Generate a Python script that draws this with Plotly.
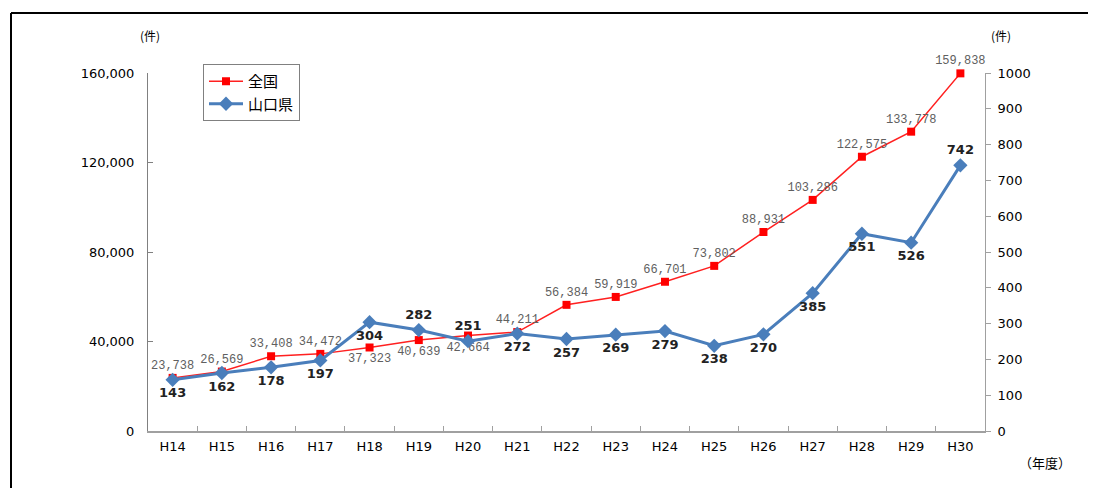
import plotly.graph_objects as go

years = ["H14", "H15", "H16", "H17", "H18", "H19", "H20", "H21", "H22",
         "H23", "H24", "H25", "H26", "H27", "H28", "H29", "H30"]
zenkoku = [23738, 26569, 33408, 34472, 37323, 40639, 42664, 44211, 56384,
           59919, 66701, 73802, 88931, 103286, 122575, 133778, 159838]
yamaguchi = [143, 162, 178, 197, 304, 282, 251, 272, 257,
             269, 279, 238, 270, 385, 551, 526, 742]
zenkoku_pos = ["top center"] * 4 + ["bottom center"] * 3 + ["top center"] * 10
yamaguchi_pos = ["bottom center"] * 5 + ["top center"] * 2 + ["bottom center"] * 9 + ["top center"]

left_ticks = [0, 40000, 80000, 120000, 160000]
right_ticks = list(range(0, 1001, 100))

JP = "Noto Sans CJK JP"
SANS = "DejaVu Sans"

# plot area in page pixels: x 148..985, y 73..431 (page body has 8px offset)
PL, PR, PT, PB = 148, 985, 73, 431
PW, PH = PR - PL, PB - PT


def px(x):
    return (x - PL) / PW


def py(y):
    return (PB - y) / PH


fig = go.Figure()
fig.add_trace(go.Scatter(
    x=years, y=zenkoku, name="全国", mode="lines+markers+text",
    legendgroup="a",
    line=dict(color="#ff2020", width=1.5),
    marker=dict(symbol="square", size=8, color="#ff0000"),
    text=[f"{v:,}" for v in zenkoku], textposition=zenkoku_pos,
    textfont=dict(family="Liberation Mono, DejaVu Sans Mono", size=12, color="#606060"),
    yaxis="y", cliponaxis=False,
))
fig.add_trace(go.Scatter(
    x=years, y=yamaguchi, name="山口県", mode="lines+markers+text",
    legendgroup="b",
    line=dict(color="#4a7ebb", width=3),
    marker=dict(symbol="diamond", size=11, color="#4a7ebb"),
    text=[str(v) for v in yamaguchi], textposition=yamaguchi_pos,
    textfont=dict(family=SANS, size=13, color="#222222", weight="bold"),
    yaxis="y2", cliponaxis=False,
))

fig.update_layout(
    width=1096, height=488,
    margin=dict(l=PL - 8, r=1096 - PR + 8, t=PT - 8, b=488 - PB + 8),
    paper_bgcolor="white", plot_bgcolor="white",
    showlegend=True,
    legend=dict(x=px(203), y=py(64), xanchor="left", yanchor="top",
                bgcolor="white", bordercolor="#808080", borderwidth=1,
                font=dict(family=JP, size=15, color="#000000"),
                traceorder="grouped", tracegroupgap=0,
                itemwidth=34),
    xaxis=dict(type="category", range=[-0.5, 16.5], showline=True,
               linecolor="#a0a0a0", linewidth=1.5, ticks="inside",
               tickson="boundaries", ticklen=5, tickcolor="#a0a0a0",
               tickfont=dict(family=SANS, size=13, color="#000000"),
               showgrid=False, zeroline=False, ticklabelstandoff=3),
    yaxis=dict(range=[0, 160000], tickvals=left_ticks,
               ticktext=[f"{v:,}" for v in left_ticks],
               showline=True, linecolor="#808080", linewidth=1,
               ticks="inside", ticklen=5, tickcolor="#808080",
               tickfont=dict(family=SANS, size=13, color="#000000"),
               showgrid=False, zeroline=False, ticklabelstandoff=10),
    yaxis2=dict(range=[0, 1000], tickvals=right_ticks, overlaying="y",
                side="right", showline=True, linecolor="#a0a0a0",
                linewidth=1, ticks="outside", ticklen=5, tickcolor="#a0a0a0",
                tickfont=dict(family=SANS, size=13, color="#000000"),
                showgrid=False, zeroline=False, ticklabelstandoff=4),
    shapes=[
        dict(type="line", xref="paper", yref="paper", x0=px(11), x1=px(1110),
             y0=py(13), y1=py(13), line=dict(color="black", width=2)),
        dict(type="line", xref="paper", yref="paper", x0=px(11), x1=px(11),
             y0=py(500), y1=py(13), line=dict(color="black", width=2)),
    ],
    annotations=[
        dict(text="(件)", xref="paper", yref="paper", x=px(150), y=py(36),
             xanchor="center", yanchor="middle", showarrow=False,
             font=dict(family=JP, size=12, color="#000000")),
        dict(text="(件)", xref="paper", yref="paper", x=px(1001), y=py(36),
             xanchor="center", yanchor="middle", showarrow=False,
             font=dict(family=JP, size=12, color="#000000")),
        dict(text="（年度）", xref="paper", yref="paper", x=px(1045), y=py(462),
             xanchor="center", yanchor="middle", showarrow=False,
             font=dict(family=JP, size=13, color="#000000")),
    ],
)

fig.write_html("out.html")
